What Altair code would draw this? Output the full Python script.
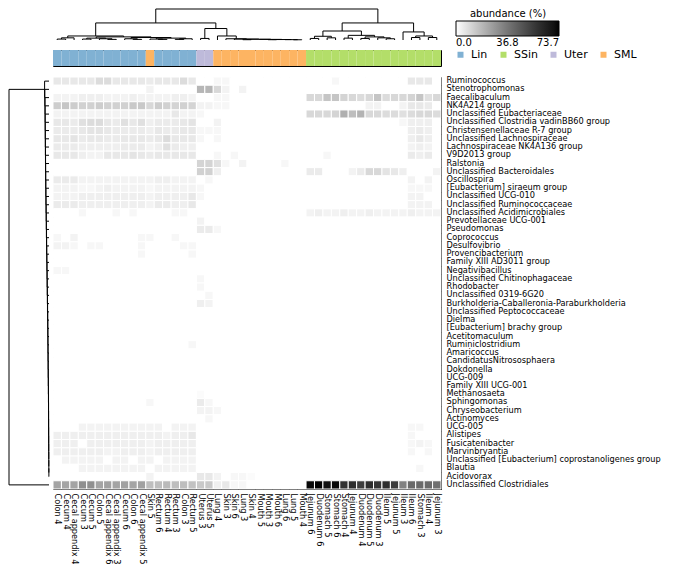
import altair as alt
import pandas as pd

samples = ["Colon 4", "Cecum 4", "Cecal appendix 4", "Cecum 3", "Cecum 5", "Colon 5",
           "Cecal appendix 6", "Cecal appendix 3", "Cecum 6", "Colon 6", "Cecal appendix 5",
           "Skin 5", "Rectum 6", "Rectum 4", "Rectum 3", "Colon 3", "Rectum 5",
           "Uterus 3", "Uterus 5", "Lung 4", "Skin 3", "Skin 6", "Lung 3", "Skin 4",
           "Mouth 5", "Mouth 3", "Mouth 6", "Lung 6", "Lung 5", "Mouth 4",
           "Jejunum 6", "Duodenum 6", "Stomach 5", "Stomach 6", "Stomach 4", "Jejunum 4",
           "Duodenum 4", "Duodenum 5", "Duodenum 3", "Ileum 5", "Jejunum 5", "Ileum 3",
           "Ileum 6", "Stomach 3", "Ileum 4", "Jejunum 3"]
sample_groups = ["Lin"] * 11 + ["SML"] + ["Lin"] * 5 + ["Uter"] * 2 + ["SML"] * 11 + ["SSin"] * 16

taxa = ["Ruminococcus", "Stenotrophomonas", "Faecalibaculum", "NK4A214 group",
        "Unclassified Eubacteriaceae", "Unclassified Clostridia vadinBB60 group",
        "Christensenellaceae R-7 group", "Unclassified Lachnospiraceae",
        "Lachnospiraceae NK4A136 group", "V9D2013 group", "Ralstonia",
        "Unclassified Bacteroidales", "Oscillospira", "[Eubacterium] siraeum group",
        "Unclassified UCG-010", "Unclassified Ruminococcaceae",
        "Unclassified Acidimicrobiales", "Prevotellaceae UCG-001", "Pseudomonas",
        "Coprococcus", "Desulfovibrio", "Provencibacterium", "Family XIII AD3011 group",
        "Negativibacillus", "Unclassified Chitinophagaceae", "Rhodobacter",
        "Unclassified 0319-6G20", "Burkholderia-Caballeronia-Paraburkholderia",
        "Unclassified Peptococcaceae", "Dielma", "[Eubacterium] brachy group",
        "Acetitomaculum", "Ruminiclostridium", "Amaricoccus", "CandidatusNitrososphaera",
        "Dokdonella", "UCG-009", "Family XIII UCG-001", "Methanosaeta", "Sphingomonas",
        "Chryseobacterium", "Actinomyces", "UCG-005", "Alistipes", "Fusicatenibacter",
        "Marvinbryantia", "Unclassified [Eubacterium] coprostanoligenes group", "Blautia",
        "Acidovorax", "Unclassified Clostridiales"]

# abundance (%) : columns 1-17 (Lin block, incl. Skin 5)
lin_block = [
    [6, 6, 6, 6, 6, 9, 9, 6, 6, 6, 6, 5, 6, 6, 6, 9, 6],
    [0, 0, 0, 0, 0, 0, 0, 0, 0, 0, 0, 3, 0, 0, 0, 0, 0],
    [3, 3, 3, 4, 4, 4, 3, 3, 3, 4, 3, 3, 3, 3, 4, 4, 3],
    [13, 15, 13, 12, 12, 13, 12, 12, 12, 14, 14, 10, 13, 12, 11, 12, 11],
    [3, 3, 3, 3, 3, 3, 3, 3, 3, 3, 3, 3, 3, 3, 6, 3, 3],
    [6, 6, 5, 8, 9, 9, 6, 5, 8, 6, 8, 4, 5, 5, 5, 6, 7],
    [5, 5, 5, 6, 7, 7, 6, 5, 5, 5, 5, 4, 6, 5, 5, 6, 6],
    [6, 6, 7, 5, 6, 6, 5, 5, 6, 6, 6, 5, 6, 9, 6, 6, 6],
    [5, 5, 5, 4, 4, 4, 4, 4, 5, 5, 5, 3, 4, 8, 5, 4, 4],
    [6, 6, 6, 4, 3, 3, 6, 6, 6, 7, 6, 5, 6, 6, 6, 6, 6],
    [0, 0, 0, 0, 0, 0, 0, 0, 0, 0, 0, 0, 0, 0, 0, 0, 0],
    [0, 0, 0, 0, 0, 0, 0, 0, 0, 0, 0, 0, 0, 0, 0, 0, 0],
    [5, 5, 5, 3, 3, 3, 3, 3, 3, 3, 3, 3, 4, 4, 3, 3, 3],
    [3, 3, 3, 2, 2, 3, 4, 3, 3, 3, 3, 2, 3, 3, 3, 3, 3],
    [3, 3, 3, 4, 4, 4, 4, 4, 4, 4, 4, 3, 4, 4, 4, 4, 6],
    [5, 5, 5, 4, 4, 4, 4, 4, 4, 4, 4, 3, 5, 5, 4, 4, 6],
    [0, 0, 0, 2, 0, 0, 0, 2, 0, 2, 0, 0, 0, 0, 2, 2, 0],
    [0, 0, 0, 0, 0, 0, 0, 0, 0, 0, 0, 0, 0, 0, 0, 0, 0],
    [0, 0, 0, 0, 0, 0, 0, 0, 0, 0, 0, 0, 0, 0, 0, 0, 0],
    [2, 0, 3, 0, 0, 0, 0, 0, 0, 0, 2, 2, 0, 0, 2, 0, 0],
    [3, 3, 2, 0, 2, 2, 0, 0, 0, 0, 2, 0, 0, 0, 0, 2, 2],
    [0, 0, 0, 0, 0, 0, 0, 0, 0, 0, 2, 0, 0, 0, 0, 0, 2],
    [0, 0, 0, 0, 0, 0, 0, 0, 0, 0, 0, 0, 0, 0, 0, 0, 0],
    [2, 2, 0, 0, 0, 0, 0, 0, 0, 0, 0, 0, 0, 0, 0, 0, 0],
    [0, 0, 0, 0, 0, 0, 0, 0, 0, 0, 0, 0, 0, 0, 0, 0, 0],
    [0, 0, 0, 0, 0, 0, 0, 0, 0, 0, 0, 0, 0, 0, 0, 0, 0],
    [0, 0, 0, 0, 0, 0, 0, 0, 0, 0, 0, 0, 0, 0, 0, 0, 0],
    [0, 0, 0, 0, 0, 0, 0, 0, 0, 0, 0, 0, 0, 0, 0, 0, 0],
    [0, 0, 0, 0, 0, 0, 0, 0, 0, 0, 0, 0, 0, 0, 0, 0, 0],
    [0, 0, 0, 0, 0, 0, 0, 0, 0, 0, 0, 0, 0, 0, 0, 0, 0],
    [0, 0, 0, 0, 0, 0, 0, 0, 0, 0, 0, 0, 0, 0, 0, 0, 0],
    [0, 0, 0, 0, 0, 0, 0, 0, 0, 0, 0, 0, 0, 0, 0, 0, 0],
    [0, 0, 0, 0, 0, 0, 0, 0, 0, 0, 0, 0, 0, 0, 0, 0, 2],
    [0, 0, 0, 0, 0, 0, 0, 0, 0, 0, 0, 0, 0, 0, 0, 0, 0],
    [0, 0, 0, 0, 0, 0, 0, 0, 0, 0, 0, 0, 0, 0, 0, 0, 0],
    [0, 0, 0, 0, 0, 0, 0, 0, 0, 0, 0, 0, 0, 0, 0, 0, 0],
    [0, 0, 0, 0, 0, 0, 0, 0, 0, 0, 0, 0, 0, 0, 0, 0, 0],
    [0, 0, 0, 0, 0, 0, 0, 0, 0, 0, 0, 0, 0, 0, 0, 0, 0],
    [0, 0, 0, 0, 0, 0, 0, 0, 0, 0, 0, 0, 0, 0, 0, 0, 0],
    [0, 0, 0, 0, 0, 0, 0, 0, 0, 0, 0, 2, 0, 0, 0, 0, 0],
    [0, 0, 0, 0, 0, 0, 0, 0, 0, 0, 0, 0, 0, 0, 0, 0, 0],
    [0, 0, 0, 0, 0, 0, 0, 0, 0, 0, 0, 0, 0, 0, 0, 0, 0],
    [0, 0, 0, 3, 3, 3, 3, 3, 3, 3, 3, 3, 3, 0, 3, 3, 3],
    [4, 4, 4, 4, 4, 4, 4, 4, 4, 4, 4, 4, 4, 3, 4, 4, 6],
    [4, 4, 4, 0, 4, 4, 4, 4, 4, 4, 4, 3, 4, 4, 4, 4, 4],
    [4, 4, 4, 4, 4, 4, 3, 3, 4, 4, 4, 3, 4, 4, 4, 4, 4],
    [0, 3, 3, 3, 3, 3, 0, 3, 3, 0, 3, 3, 0, 3, 3, 3, 3],
    [0, 0, 0, 3, 3, 3, 3, 3, 3, 3, 3, 0, 3, 3, 3, 3, 3],
    [0, 0, 0, 0, 0, 0, 0, 0, 0, 0, 0, 3, 0, 0, 0, 0, 0],
    [24, 24, 24, 30, 30, 24, 25, 24, 25, 24, 25, 17, 17, 18, 17, 17, 16],
]

# abundance (%) : columns 18-30 (Uterus, lung, skin, mouth)
mid_block = [
    [0, 0, 2, 2, 0, 0, 0, 0, 0, 0, 0, 0, 0],
    [19, 19, 10, 3, 0, 3, 0, 0, 0, 0, 0, 0, 0],
    [0, 0, 2, 2, 0, 0, 0, 0, 0, 0, 0, 0, 0],
    [3, 3, 2, 2, 0, 0, 0, 0, 0, 0, 0, 0, 0],
    [2, 0, 0, 0, 0, 0, 0, 0, 0, 0, 0, 0, 0],
    [0, 0, 3, 0, 0, 0, 0, 0, 0, 0, 0, 0, 0],
    [2, 2, 2, 0, 0, 0, 0, 0, 0, 0, 0, 0, 0],
    [2, 0, 2, 0, 0, 0, 0, 0, 0, 0, 0, 0, 0],
    [0, 0, 0, 0, 0, 0, 0, 0, 0, 0, 0, 0, 0],
    [0, 0, 2, 0, 2, 0, 0, 0, 0, 0, 0, 0, 0],
    [11, 11, 8, 2, 0, 3, 0, 0, 0, 0, 2, 0, 0],
    [12, 12, 4, 0, 0, 0, 0, 0, 0, 0, 0, 0, 0],
    [0, 2, 0, 0, 0, 0, 0, 0, 0, 0, 0, 0, 0],
    [2, 0, 0, 0, 0, 0, 0, 0, 0, 0, 0, 0, 0],
    [2, 0, 0, 0, 0, 0, 0, 0, 0, 0, 0, 0, 0],
    [0, 0, 0, 0, 0, 0, 0, 0, 0, 0, 0, 0, 0],
    [0, 0, 0, 0, 0, 0, 0, 0, 0, 0, 0, 0, 0],
    [3, 0, 0, 0, 0, 0, 0, 0, 0, 0, 0, 0, 0],
    [5, 5, 2, 0, 0, 0, 0, 0, 0, 0, 0, 0, 0],
    [0, 0, 0, 0, 0, 0, 0, 0, 0, 0, 0, 0, 0],
    [0, 0, 0, 0, 0, 0, 0, 0, 0, 0, 0, 0, 0],
    [0, 0, 0, 0, 0, 0, 0, 0, 0, 0, 0, 0, 0],
    [0, 0, 0, 0, 0, 0, 0, 0, 0, 0, 0, 0, 0],
    [0, 0, 0, 0, 0, 0, 0, 0, 0, 0, 0, 0, 0],
    [2, 0, 0, 0, 0, 0, 0, 0, 0, 0, 0, 0, 0],
    [2, 0, 0, 0, 0, 0, 0, 0, 0, 0, 0, 0, 0],
    [0, 2, 0, 0, 0, 0, 0, 0, 0, 0, 0, 0, 0],
    [4, 3, 0, 0, 0, 0, 0, 0, 0, 0, 0, 0, 0],
    [0, 0, 0, 0, 0, 0, 0, 0, 0, 0, 0, 0, 0],
    [0, 0, 0, 0, 0, 0, 0, 0, 0, 0, 0, 0, 0],
    [0, 0, 0, 0, 0, 0, 0, 0, 0, 0, 0, 0, 0],
    [0, 0, 0, 0, 0, 0, 0, 0, 0, 0, 0, 0, 0],
    [0, 0, 0, 0, 0, 0, 0, 0, 0, 0, 0, 0, 0],
    [0, 0, 0, 0, 0, 0, 0, 0, 0, 0, 0, 0, 0],
    [0, 0, 0, 0, 0, 0, 0, 0, 0, 0, 0, 0, 0],
    [0, 0, 0, 0, 0, 0, 0, 0, 0, 0, 0, 0, 0],
    [0, 0, 0, 0, 0, 0, 0, 0, 0, 0, 0, 0, 0],
    [0, 0, 0, 0, 0, 0, 0, 0, 0, 0, 0, 0, 0],
    [1, 0, 0, 0, 0, 0, 0, 0, 0, 0, 0, 0, 0],
    [5, 2, 0, 0, 0, 0, 0, 0, 0, 0, 0, 0, 0],
    [3, 3, 2, 0, 0, 0, 0, 0, 0, 0, 0, 0, 0],
    [0, 2, 0, 0, 0, 0, 0, 0, 0, 0, 0, 0, 0],
    [0, 0, 0, 0, 0, 0, 0, 0, 0, 0, 0, 0, 0],
    [0, 0, 0, 0, 0, 0, 0, 0, 0, 0, 0, 0, 0],
    [0, 0, 0, 0, 0, 0, 0, 0, 0, 0, 0, 0, 0],
    [0, 0, 0, 0, 0, 0, 0, 0, 0, 0, 0, 0, 0],
    [0, 0, 0, 0, 0, 0, 0, 0, 0, 0, 0, 0, 0],
    [0, 0, 0, 0, 0, 0, 0, 0, 0, 0, 0, 0, 0],
    [6, 6, 3, 0, 2, 2, 1, 0, 0, 0, 0, 0, 0],
    [14, 14, 4, 6, 2, 2, 0, 0, 0, 0, 0, 0, 0],
]

# abundance (%) : columns 31-46 (SSin)
ssin_block = [
    [0, 0, 0, 2, 0, 0, 0, 0, 0, 0, 0, 0, 6, 6, 6, 0],
    [0, 0, 0, 0, 0, 0, 0, 0, 0, 0, 0, 0, 0, 0, 0, 0],
    [10, 10, 15, 15, 11, 10, 9, 10, 15, 9, 10, 10, 11, 15, 8, 10],
    [0, 0, 0, 0, 0, 0, 0, 3, 3, 0, 0, 3, 6, 6, 5, 0],
    [10, 10, 10, 11, 21, 17, 20, 10, 10, 9, 9, 8, 9, 10, 10, 9],
    [0, 0, 0, 0, 0, 0, 0, 0, 0, 0, 0, 2, 4, 4, 4, 0],
    [0, 0, 0, 0, 0, 0, 0, 0, 0, 0, 0, 0, 4, 5, 4, 0],
    [0, 0, 0, 0, 0, 0, 0, 0, 0, 0, 0, 0, 4, 6, 4, 0],
    [0, 0, 0, 0, 0, 0, 0, 0, 0, 0, 0, 0, 3, 4, 3, 0],
    [0, 0, 2, 0, 0, 0, 0, 0, 0, 0, 0, 0, 5, 4, 5, 0],
    [0, 0, 0, 0, 0, 0, 0, 0, 0, 0, 0, 0, 0, 0, 0, 0],
    [5, 5, 0, 0, 0, 3, 5, 10, 10, 7, 6, 4, 0, 0, 0, 3],
    [0, 0, 0, 0, 0, 0, 0, 0, 0, 0, 0, 0, 3, 0, 3, 0],
    [0, 0, 0, 0, 0, 0, 0, 0, 0, 0, 0, 0, 2, 2, 2, 0],
    [0, 0, 0, 0, 0, 0, 0, 0, 0, 0, 0, 0, 3, 3, 0, 0],
    [0, 0, 0, 0, 0, 0, 0, 0, 0, 0, 0, 0, 3, 3, 3, 0],
    [3, 4, 3, 3, 4, 3, 3, 4, 3, 3, 3, 3, 4, 3, 3, 3],
    [0, 0, 0, 0, 0, 0, 0, 0, 0, 0, 0, 0, 0, 0, 0, 0],
    [0, 0, 0, 0, 0, 0, 0, 0, 0, 0, 0, 0, 0, 0, 0, 0],
    [0, 0, 0, 0, 0, 0, 0, 0, 0, 0, 0, 0, 0, 0, 0, 0],
    [0, 0, 0, 0, 0, 0, 0, 0, 0, 0, 0, 0, 0, 0, 0, 0],
    [0, 0, 0, 0, 0, 0, 0, 0, 0, 0, 0, 0, 0, 0, 0, 0],
    [0, 0, 0, 0, 0, 0, 0, 0, 0, 0, 0, 0, 0, 0, 0, 0],
    [0, 0, 0, 0, 0, 0, 0, 0, 0, 0, 0, 0, 0, 0, 0, 0],
    [0, 0, 0, 0, 0, 0, 0, 0, 0, 0, 0, 0, 0, 0, 0, 0],
    [0, 0, 0, 0, 0, 0, 0, 0, 0, 0, 0, 0, 0, 0, 0, 0],
    [0, 0, 0, 0, 0, 0, 0, 0, 0, 0, 0, 0, 0, 0, 0, 0],
    [0, 0, 0, 0, 0, 0, 0, 0, 0, 0, 0, 0, 0, 0, 0, 0],
    [0, 0, 0, 0, 0, 0, 0, 0, 0, 0, 0, 0, 0, 0, 0, 0],
    [0, 0, 0, 0, 0, 0, 0, 0, 0, 0, 0, 0, 0, 0, 0, 0],
    [0, 0, 0, 0, 0, 0, 0, 0, 0, 0, 0, 0, 0, 0, 0, 0],
    [0, 0, 0, 0, 0, 0, 0, 0, 0, 0, 0, 0, 0, 0, 0, 0],
    [0, 0, 0, 0, 0, 0, 0, 0, 0, 0, 0, 0, 0, 0, 0, 0],
    [0, 0, 0, 0, 0, 0, 0, 0, 0, 0, 0, 0, 0, 0, 0, 0],
    [0, 0, 0, 0, 0, 0, 0, 0, 0, 0, 0, 0, 0, 0, 0, 0],
    [0, 0, 0, 0, 0, 0, 0, 0, 0, 0, 0, 0, 0, 0, 0, 0],
    [0, 0, 0, 0, 0, 0, 0, 0, 0, 0, 0, 0, 0, 0, 0, 0],
    [0, 0, 0, 0, 0, 0, 0, 0, 0, 0, 0, 0, 0, 0, 0, 0],
    [0, 0, 0, 0, 0, 0, 0, 0, 0, 0, 0, 0, 0, 0, 0, 0],
    [0, 0, 0, 0, 0, 0, 0, 0, 0, 0, 0, 0, 0, 0, 0, 0],
    [0, 0, 0, 0, 0, 0, 0, 0, 0, 0, 0, 0, 0, 0, 0, 0],
    [0, 0, 0, 0, 0, 0, 0, 0, 0, 0, 0, 0, 0, 0, 0, 0],
    [0, 0, 0, 0, 0, 0, 0, 0, 0, 0, 0, 0, 2, 2, 0, 0],
    [0, 0, 0, 0, 0, 0, 0, 0, 0, 0, 0, 0, 2, 0, 0, 0],
    [0, 0, 0, 0, 0, 0, 0, 0, 0, 0, 0, 0, 2, 3, 2, 0],
    [0, 0, 0, 0, 0, 0, 0, 0, 0, 0, 0, 0, 2, 0, 2, 0],
    [0, 0, 0, 0, 0, 0, 0, 0, 0, 0, 0, 0, 0, 0, 0, 0],
    [0, 0, 0, 0, 0, 0, 0, 0, 0, 0, 0, 0, 0, 2, 0, 0],
    [0, 0, 0, 0, 0, 0, 0, 0, 0, 0, 0, 0, 0, 0, 0, 0],
    [72, 73.7, 70, 72, 58, 60, 55, 60, 57, 60, 55, 34, 41, 41, 41, 39],
]

# column dendrogram: [merge height, left, right]; leaves are column indices
col_tree = [1.0,
            [0.55,
             [0.13,
              [0.07, [0.03, 0, 1], 2],
              [0.10,
               [0.06, [0.03, 3, 4], [0.04, 5, [0.02, 6, 7]]],
               [0.08, [0.04, 8, [0.02, 9, 10]],
                [0.06, [0.03, 11, [0.02, 12, 13]], [0.04, [0.02, 14, 15], 16]]]]],
             [0.37,
              [0.05, 17, 18],
              [0.13, 19,
               [0.04, 20,
                [0.03, 21,
                 [0.025, [0.01, 22, 23],
                  [0.02, 24, [0.015, [0.01, 25, 26], [0.012, 27, [0.008, 28, 29]]]]]]]]]],
            [0.55,
             [0.29,
              [0.12, [0.05, 30, 31], [0.07, 32, 33]],
              [0.15, [0.06, 34, 35], [0.1, [0.05, 36, 37], [0.07, 38, [0.04, 39, 40]]]]],
             [0.26, 41, [0.13, [0.08, 42, 43], [0.08, 44, 45]]]]]

# row dendrogram: rows 1-49 join one by one (heights listed top row first), then row 50
row_chain_heights = [0.11, 0.105, 0.1, 0.098, 0.096, 0.094, 0.092, 0.09, 0.088, 0.086,
                     0.084, 0.082, 0.08, 0.077, 0.074, 0.071, 0.068, 0.065, 0.062, 0.059,
                     0.056, 0.053, 0.05, 0.047, 0.044, 0.041, 0.038, 0.035, 0.032, 0.03,
                     0.028, 0.026, 0.024, 0.022, 0.02, 0.018, 0.016, 0.014, 0.012, 0.011,
                     0.01, 0.009, 0.008, 0.007, 0.006, 0.005, 0.004, 0.003]
row_root_height = 1.0

group_names = ["Lin", "SSin", "Uter", "SML"]
group_colors = ["#80b1d3", "#b3de69", "#bebada", "#fdb462"]

FONT = "DejaVu Sans"
W = 388
H = 412
LW = 40
TOPH = 31


def segments(tree, out):
    if isinstance(tree, int):
        return float(tree), 0.0
    h, left, right = tree
    xl, hl = segments(left, out)
    xr, hr = segments(right, out)
    out.append({"p": xl, "p2": xl, "h": hl, "h2": h})
    out.append({"p": xr, "p2": xr, "h": hr, "h2": h})
    out.append({"p": xl, "p2": xr, "h": h, "h2": h})
    return (xl + xr) / 2.0, h


# build row tree from chain heights
row_tree = 48
for k in range(47, -1, -1):
    row_tree = [row_chain_heights[k], k, row_tree]
row_tree = [row_root_height, row_tree, 49]

col_segs = []
segments(col_tree, col_segs)
row_segs = []
segments(row_tree, row_segs)
col_df = pd.DataFrame(col_segs)
row_df = pd.DataFrame(row_segs)

records = []
for i, taxon in enumerate(taxa):
    vals = lin_block[i] + mid_block[i] + ssin_block[i]
    for j, s in enumerate(samples):
        records.append({"taxon": taxon, "sample": s, "value": vals[j]})
heat_df = pd.DataFrame(records)
bar_df = pd.DataFrame({"sample": samples, "group": sample_groups})

blank = alt.ViewBackground(stroke="transparent")
framed = alt.ViewBackground(stroke="black", strokeWidth=1)

top_dendro = alt.Chart(col_df).mark_rule(color="black", strokeWidth=1).encode(
    x=alt.X("p:Q", scale=alt.Scale(domain=[-0.5, 45.5], nice=False, zero=False), axis=None),
    x2="p2:Q",
    y=alt.Y("h:Q", scale=alt.Scale(domain=[0, 1.0], nice=False), axis=None),
    y2="h2:Q",
).properties(width=W, height=TOPH, view=blank)

spacer = alt.Chart(pd.DataFrame({"a": [0]})).mark_rule(opacity=0).encode(
    x=alt.value(10), y=alt.value(10), y2=alt.value(12)
).properties(width=LW, height=TOPH, view=blank)

spacer2 = alt.Chart(pd.DataFrame({"a": [0]})).mark_rule(opacity=0).encode(
    x=alt.value(10), y=alt.value(5), y2=alt.value(7)
).properties(width=LW, height=16, view=blank)

group_bar = alt.Chart(bar_df).mark_rect().encode(
    x=alt.X("sample:N", sort=samples, axis=None, scale=alt.Scale(paddingInner=0, paddingOuter=0)),
    fill=alt.Fill("group:N", scale=alt.Scale(domain=group_names, range=group_colors),
                  legend=alt.Legend(orient="none", legendX=446, legendY=40, direction="horizontal",
                                    columns=4, title=None, symbolType="square", symbolSize=36,
                                    symbolStrokeWidth=0, labelFont=FONT, labelFontSize=11,
                                    columnPadding=10, labelOffset=5, labelColor="black")),
).properties(width=W, height=16, view=framed)

left_dendro = alt.Chart(row_df).mark_rule(color="black", strokeWidth=1).encode(
    y=alt.Y("p:Q", scale=alt.Scale(domain=[-0.5, 49.5], nice=False, zero=False, reverse=True), axis=None),
    y2="p2:Q",
    x=alt.X("h:Q", scale=alt.Scale(domain=[1.0, 0], nice=False), axis=None),
    x2="h2:Q",
).properties(width=LW, height=H, view=blank)

heat = alt.Chart(heat_df).mark_rect(stroke="white", strokeWidth=1).encode(
    x=alt.X("sample:N", sort=samples, title=None,
            scale=alt.Scale(paddingInner=0, paddingOuter=0),
            axis=alt.Axis(labelAngle=90, ticks=False, domain=False, labelFont=FONT,
                          labelFontSize=8.2, labelPadding=4, labelLimit=0, labelColor="black")),
    y=alt.Y("taxon:N", sort=taxa, title=None,
            scale=alt.Scale(paddingInner=0, paddingOuter=0),
            axis=alt.Axis(orient="right", ticks=False, domain=False, labelFont=FONT,
                          labelFontSize=8.2, labelPadding=5, labelLimit=0, labelColor="black")),
    color=alt.Color("value:Q",
                    scale=alt.Scale(domain=[0, 73.7], range=["#ffffff", "#000000"]),
                    legend=alt.Legend(orient="none", legendX=447, legendY=0, direction="horizontal",
                                      title="abundance (%)", titleFont=FONT, titleFontSize=10,
                                      titleFontWeight="normal", titleAnchor="middle", titlePadding=2,
                                      titleColor="black",
                                      labelFont=FONT, labelFontSize=10, labelColor="black",
                                      values=[0, 36.8, 73.7], format=".1f",
                                      gradientLength=103, gradientThickness=15,
                                      gradientStrokeColor="black", gradientStrokeWidth=1)),
).properties(width=W, height=H, view=framed)

row1 = alt.hconcat(spacer, top_dendro, spacing=2)
row2 = alt.hconcat(spacer2, group_bar, spacing=2)
row3 = alt.hconcat(left_dendro, heat, spacing=2)

chart = alt.vconcat(row1, row2, row3, spacing=8).properties(
    padding={"left": 0, "top": 0, "right": 0, "bottom": 0}
).configure_view(stroke="transparent")

chart.save("out.html", embed_options={"renderer": "svg", "actions": False})
